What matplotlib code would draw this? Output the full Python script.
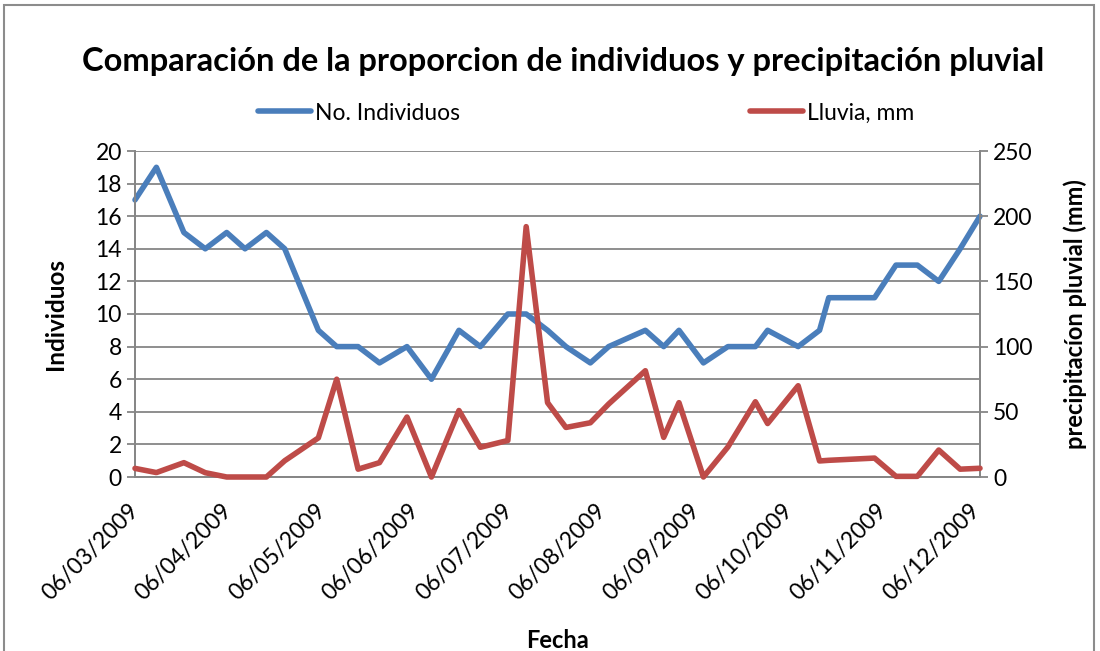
import matplotlib
matplotlib.use("Agg")
import matplotlib.pyplot as plt
from matplotlib.lines import Line2D
from matplotlib.patches import Rectangle

plt.rcParams["font.family"] = ["Lato", "DejaVu Sans"]

# days since 06/03/2009 for each sampling
dias = [0, 7, 16, 23, 30, 36, 43, 49, 60, 66, 73, 80, 89, 97, 106, 113, 122, 128,
        135, 141, 149, 155, 167, 173, 178, 186, 194, 203, 207, 217, 224, 227, 242,
        249, 256, 263, 270, 276.5]
individuos = [17, 19, 15, 14, 15, 14, 15, 14, 9, 8, 8, 7, 8, 6, 9, 8, 10, 10,
              9, 8, 7, 8, 9, 8, 9, 7, 8, 8, 9, 8, 9, 11, 11, 13, 13, 12, 14, 16]
lluvia = [6.6, 3.4, 11, 3.3, 0, 0, 0, 12.5, 30, 75, 6, 11, 46, 0, 51, 22.8, 28, 192,
          57, 38, 41.6, 56, 81.5, 30.4, 57, 0, 23, 57.7, 41, 70, 12.3, 12.8, 14.5,
          0.5, 0.5, 20.7, 6, 6.7]

tick_dias = [0, 30.6, 61.2, 91.8, 122.4, 153, 183.6, 214.2, 244.8, 275.4]
tick_fechas = ["06/03/2009", "06/04/2009", "06/05/2009", "06/06/2009", "06/07/2009",
               "06/08/2009", "06/09/2009", "06/10/2009", "06/11/2009", "06/12/2009"]

azul = "#4A7EBB"
rojo = "#BE4B48"
gris = "#868686"

W, H = 1100, 651
fig = plt.figure(figsize=(W / 100, H / 100), dpi=100)
ax = fig.add_axes([135 / W, 1 - 477 / H, (980 - 135) / W, (477 - 151) / H])
ax2 = ax.twinx()

ax.plot(dias, individuos, color=azul, lw=4, solid_joinstyle="round",
        solid_capstyle="round", clip_on=False, zorder=3)
ax2.plot(dias, lluvia, color=rojo, lw=4, solid_joinstyle="round",
         solid_capstyle="round", clip_on=False, zorder=3)

ax.set_xlim(0, 276.5)
ax.set_ylim(0, 20)
ax2.set_ylim(0, 250)
ax.set_yticks(range(0, 21, 2))
ax2.set_yticks(range(0, 251, 50))
ax.set_xticks(tick_dias)
ax.set_xticklabels(tick_fechas, rotation=45, ha="right", va="center",
                   rotation_mode="anchor")

ax.yaxis.grid(True, color=gris, lw=1.3)
ax.set_axisbelow(True)

for a in (ax, ax2):
    for s in a.spines.values():
        s.set_color(gris)
        s.set_linewidth(1.3)
    a.spines["top"].set_visible(False)
    a.tick_params(labelsize=16.5, colors="black", width=1.3, length=6)
    a.tick_params(axis="y", color=gris)
ax.tick_params(axis="x", length=0, pad=22)

ax.set_ylabel("Individuos", fontsize=17.5, fontweight="bold", labelpad=20)
ax2.set_ylabel("precipitacíon pluvial (mm)", fontsize=17, fontweight="bold",
               labelpad=22)
ax.set_xlabel("Fecha", fontsize=17, fontweight="bold", labelpad=18)

fig.text(563 / W, 1 - 62 / H, "Comparación de la proporcion de individuos y precipitación pluvial",
         ha="center", va="center", fontsize=23.5, fontweight="bold")

h1 = Line2D([], [], color=azul, lw=4, solid_capstyle="round")
h2 = Line2D([], [], color=rojo, lw=4, solid_capstyle="round")
for h, lab, x0 in ((h1, "No. Individuos", 258), (h2, "Lluvia, mm", 750)):
    fig.legend(handles=[h], labels=[lab], loc="center left",
               bbox_to_anchor=(x0 / W, 1 - 113 / H), frameon=False,
               fontsize=16.5, handlelength=2.3, handletextpad=0.2,
               borderpad=0, borderaxespad=0)

fig.patches.append(Rectangle((4 / W, -0.05), (1094 - 4) / W, 1.05 - 5 / H,
                             transform=fig.transFigure, fill=False,
                             edgecolor="#8c8c8c", lw=1.5))

fig.savefig("out.png", dpi=100)
